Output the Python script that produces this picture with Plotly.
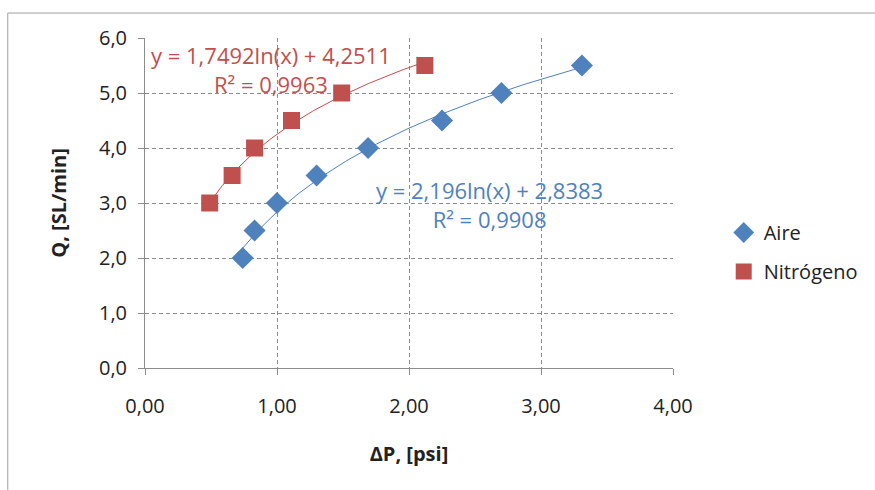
import numpy as np
import plotly.graph_objects as go

# Data
aire_dp = [0.74, 0.83, 1.00, 1.30, 1.69, 2.25, 2.70, 3.31]
aire_q = [2.0, 2.5, 3.0, 3.5, 4.0, 4.5, 5.0, 5.5]
nit_dp = [0.49, 0.66, 0.83, 1.11, 1.49, 2.12]
nit_q = [3.0, 3.5, 4.0, 4.5, 5.0, 5.5]

# Trendline coefficients shown on the chart: y = a ln(x) + b
aire_fit = (2.196, 2.8383, "0,9908")
nit_fit = (1.7492, 4.2511, "0,9963")

x_ticks = [0, 1, 2, 3, 4]
x_ticktext = ["0,00", "1,00", "2,00", "3,00", "4,00"]
y_ticks = [0, 1, 2, 3, 4, 5, 6]
y_ticktext = ["0,0", "1,0", "2,0", "3,0", "4,0", "5,0", "6,0"]

BLUE = "#4F81BD"
RED = "#C0504D"
FONT = "Open Sans"
FS = 20

fig = go.Figure()

def trend(xs, a, b):
    xx = np.linspace(min(xs), max(xs), 120)
    return xx, a * np.log(xx) + b

tx, ty = trend(aire_dp, aire_fit[0], aire_fit[1])
fig.add_trace(go.Scatter(x=tx, y=ty, mode="lines", line=dict(color=BLUE, width=1),
                         showlegend=False, hoverinfo="skip"))
tx, ty = trend(nit_dp, nit_fit[0], nit_fit[1])
fig.add_trace(go.Scatter(x=tx, y=ty, mode="lines", line=dict(color=RED, width=1),
                         showlegend=False, hoverinfo="skip"))

fig.add_trace(go.Scatter(x=aire_dp, y=aire_q, mode="markers", name="Aire",
                         legendgroup="a",
                         marker=dict(symbol="diamond", size=17, color=BLUE,
                                     line=dict(width=0))))
fig.add_trace(go.Scatter(x=nit_dp, y=nit_q, mode="markers", name="Nitrógeno",
                         legendgroup="n",
                         marker=dict(symbol="square", size=17, color=RED,
                                     line=dict(width=0))))

axis_common = dict(showline=True, linecolor="#8C8C8C", linewidth=1,
                   showgrid=True, gridcolor="#8C8C8C", griddash="4px,3px", gridwidth=1,
                   ticks="outside", ticklen=6, tickcolor="#8C8C8C",
                   tickfont=dict(family=FONT, size=FS, color="#222"),
                   zeroline=False, fixedrange=True)

fig.update_xaxes(range=[0, 4], tickvals=x_ticks, ticktext=x_ticktext,
                 ticklabelstandoff=14,
                 title=dict(text="<b>ΔP, [psi]</b>", font=dict(family=FONT, size=FS, color="#222"),
                            standoff=28),
                 **axis_common)
fig.update_yaxes(range=[0, 6], tickvals=y_ticks, ticktext=y_ticktext,
                 ticklabelstandoff=7,
                 title=dict(text="<b>Q, [SL/min]</b>", font=dict(family=FONT, size=FS, color="#222"),
                            standoff=26),
                 **axis_common)

def px_to_paper(px, py):
    return (px - 145) / 531, (368 - py) / 330

for (cx, cy, l1, l2, col) in [
    (272, 70, "y = 1,7492ln(x) + 4,2511", "R² = " + nit_fit[2], RED),
    (491, 204, "y = 2,196ln(x) + 2,8383", "R² = " + aire_fit[2], BLUE),
]:
    xp, yp = px_to_paper(cx, cy)
    fig.add_annotation(x=xp, y=yp, xref="paper", yref="paper", text=l1 + "<br>" + l2,
                       showarrow=False, xanchor="center", yanchor="middle", align="center",
                       font=dict(family=FONT, size=22, color=col))

# outer chart frame
x0, y0 = px_to_paper(7, 13)
x1, y1 = px_to_paper(890, 500)
fig.add_shape(type="rect", xref="paper", yref="paper", x0=x0, y0=y1, x1=x1, y1=y0,
              line=dict(color="#A0A0A0", width=1), layer="below")

fig.update_layout(
    width=875, height=490,
    margin=dict(l=145, r=199, t=38, b=122),
    paper_bgcolor="white", plot_bgcolor="white",
    font=dict(family=FONT, size=FS, color="#222"),
    legend=dict(x=px_to_paper(727, 0)[0], y=px_to_paper(0, 213)[1], xanchor="left", yanchor="top",
                font=dict(family=FONT, size=FS, color="#222"), tracegroupgap=10,
                itemwidth=30, bgcolor="rgba(0,0,0,0)"),
)

fig.write_html("out.html", config={"displayModeBar": False},
               post_script="document.body.style.margin='0';document.body.style.overflow='hidden';")
